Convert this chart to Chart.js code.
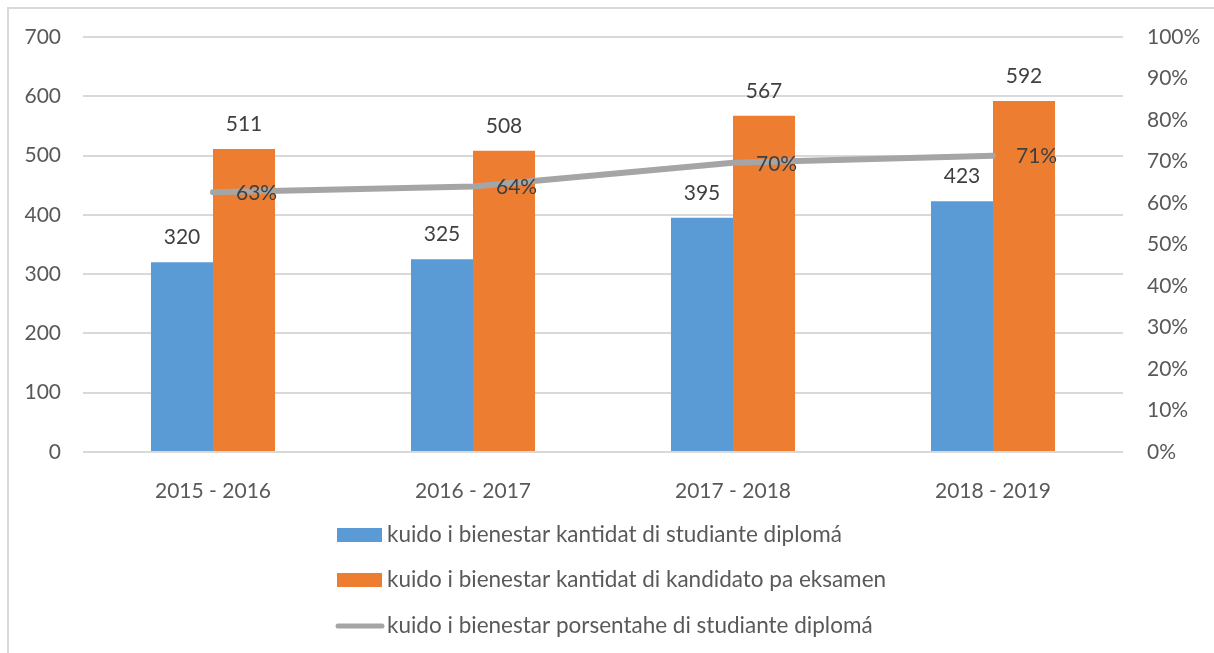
<!DOCTYPE html>
<html>
<head>
<meta charset="utf-8">
<script src="https://cdn.jsdelivr.net/npm/chart.js@4.4.0/dist/chart.umd.min.js"></script>
<style>
  html, body { margin: 0; padding: 0; background: #fff; }
  #wrap { position: relative; width: 1214px; height: 653px; overflow: hidden; }
  #frame { position: absolute; left: 7px; top: 7px; width: 1240px; height: 700px;
           border: 2px solid #d9d9d9; box-sizing: border-box; }
  canvas { position: absolute; left: 0; top: 0; }
</style>
</head>
<body>
<div id="wrap">
  <div id="frame"></div>
  <canvas id="chart" width="1214" height="653"></canvas>
</div>
<script>
// data
const years = ["2015 - 2016", "2016 - 2017", "2017 - 2018", "2018 - 2019"];
const diplomados = [320, 325, 395, 423];
const kandidatos = [511, 508, 567, 592];
const porsentahe = [0.626, 0.640, 0.697, 0.714];
const names = [
  "kuido i bienestar kantidat di studiante diplomá",
  "kuido i bienestar kantidat di kandidato pa eksamen",
  "kuido i bienestar porsentahe di studiante diplomá"
];

const FONT = "Lato";
const TEXT = "#595959";
const TICK_SIZE = 21;

// value labels (bar tops and line %), drawn after datasets
const valueLabels = {
  id: "valueLabels",
  afterDatasetsDraw(chart) {
    const ctx = chart.ctx;
    ctx.save();
    ctx.font = TICK_SIZE + "px " + FONT;
    ctx.fillStyle = "#404040";
    ctx.textBaseline = "middle";
    chart.data.datasets.forEach((ds, i) => {
      const meta = chart.getDatasetMeta(i);
      meta.data.forEach((el, j) => {
        if (ds.type === "line") {
          ctx.textAlign = "left";
          ctx.fillText(Math.round(ds.data[j] * 100) + "%", el.x + 23, el.y + 1);
        } else {
          ctx.textAlign = "center";
          ctx.fillText(ds.data[j], el.x, el.y - 25);
        }
      });
    });
    ctx.restore();
  }
};

// vertical legend under the axis
const listLegend = {
  id: "listLegend",
  afterDraw(chart) {
    const ctx = chart.ctx;
    ctx.save();
    ctx.font = "22.5px " + FONT;
    const left = 337;
    const rows = [535, 580, 626];
    chart.data.datasets.forEach((ds, i) => {
      const y = rows[i];
      if (ds.type === "line") {
        ctx.strokeStyle = ds.borderColor;
        ctx.lineWidth = 5;
        ctx.lineCap = "round";
        ctx.beginPath();
        ctx.moveTo(left + 1, y);
        ctx.lineTo(left + 45, y);
        ctx.stroke();
      } else {
        ctx.fillStyle = ds.backgroundColor;
        ctx.fillRect(left, y - 7, 45, 14);
      }
      ctx.fillStyle = TEXT;
      ctx.textAlign = "left";
      ctx.textBaseline = "middle";
      ctx.fillText(ds.label, left + 50, y);
    });
    ctx.restore();
  }
};

new Chart(document.getElementById("chart"), {
  data: {
    labels: years,
    datasets: [
      {
        type: "bar",
        label: names[0],
        data: diplomados,
        backgroundColor: "#5b9bd5",
        yAxisID: "y",
        order: 1,
        categoryPercentage: 0.477,
        barPercentage: 1
      },
      {
        type: "bar",
        label: names[1],
        data: kandidatos,
        backgroundColor: "#ed7d31",
        yAxisID: "y",
        order: 1,
        categoryPercentage: 0.477,
        barPercentage: 1
      },
      {
        type: "line",
        label: names[2],
        data: porsentahe,
        borderColor: "#a5a5a5",
        backgroundColor: "#a5a5a5",
        borderWidth: 6,
        borderCapStyle: "round",
        borderJoinStyle: "round",
        pointRadius: 0,
        yAxisID: "y1",
        order: 0
      }
    ]
  },
  options: {
    responsive: false,
    animation: false,
    layout: { padding: { top: 37, left: 0, right: 0, bottom: 0 } },
    plugins: {
      legend: { display: false },
      tooltip: { enabled: false }
    },
    scales: {
      x: {
        grid: { display: false },
        border: { display: false },
        ticks: { color: TEXT, font: { family: FONT, size: TICK_SIZE }, padding: 19 },
        afterFit: s => { s.height = 201; }
      },
      y: {
        position: "left",
        min: 0,
        max: 700,
        ticks: { stepSize: 100, color: TEXT, font: { family: FONT, size: TICK_SIZE }, padding: 22 },
        grid: { color: "#d9d9d9", lineWidth: 2, drawTicks: false },
        border: { display: false },
        afterFit: s => { s.width = 83; }
      },
      y1: {
        position: "right",
        min: 0,
        max: 1,
        ticks: {
          stepSize: 0.1,
          color: TEXT,
          font: { family: FONT, size: TICK_SIZE },
          padding: 24,
          callback: v => Math.round(v * 100) + "%"
        },
        grid: { display: false, drawTicks: false },
        border: { display: false },
        afterFit: s => { s.width = 91; }
      }
    }
  },
  plugins: [valueLabels, listLegend]
});
</script>
</body>
</html>
